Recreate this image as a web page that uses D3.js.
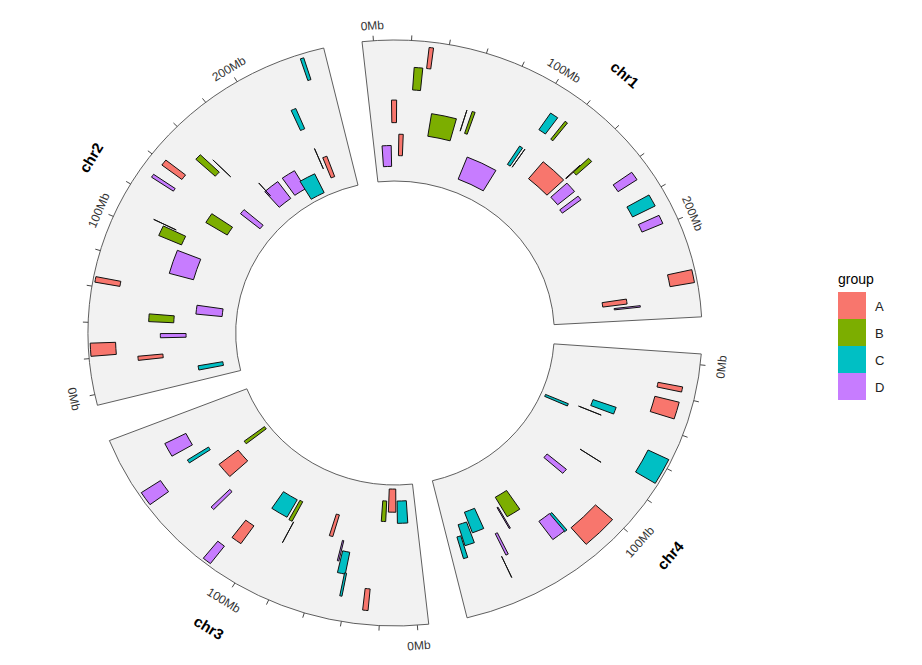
<!DOCTYPE html>
<html>
<head>
<meta charset="utf-8">
<script src="https://cdn.jsdelivr.net/npm/d3@7"></script>
<style>
  body { margin: 0; background: #fff; font-family: "Liberation Sans", Arial, sans-serif; }
</style>
</head>
<body>
<svg id="chart" width="922" height="665"></svg>
<script>
// chromosomes in clockwise drawing order
const chromNames = ["chr1", "chr4", "chr3", "chr2"];
const chromLengths = [249.25, 191.15, 198.02, 243.2]; // Mb

const groupNames = ["A", "B", "C", "D"];
const groupColors = ["#F8766D", "#7CAE00", "#00BFC4", "#C77CFF"];

// features: position in Mb, height inside the track (0-100)
const featChrom = [
  "chr1","chr1","chr1","chr1","chr1","chr1","chr1","chr1","chr1","chr1","chr1","chr1","chr1","chr1","chr1","chr1","chr1","chr1","chr1","chr1","chr1","chr1","chr1","chr1",
  "chr4","chr4","chr4","chr4","chr4","chr4","chr4","chr4","chr4","chr4","chr4","chr4","chr4","chr4","chr4","chr4","chr4","chr4","chr4",
  "chr3","chr3","chr3","chr3","chr3","chr3","chr3","chr3","chr3","chr3","chr3","chr3","chr3","chr3","chr3","chr3","chr3","chr3","chr3",
  "chr2","chr2","chr2","chr2","chr2","chr2","chr2","chr2","chr2","chr2","chr2","chr2","chr2","chr2","chr2","chr2","chr2","chr2","chr2","chr2","chr2","chr2","chr2","chr2"
];
const featStart = [
  29.6, 22.4, 9.0, 36.7, 59.4, 63, 0.7, 14.3, 71.4, 106.9, 116.6, 102.5, 106.8, 122.4, 141.8, 142.2, 145, 157.2, 164.6, 180.8, 193.8, 228.7, 239.6, 245.4,
  13.7, 22.7, 37, 46.1, 47.5, 55.1, 76.1, 94.3, 139.6, 153.1, 152.6, 123.5, 125.1, 100.3, 162.1, 166.5, 169.5, 179.5, 187,
  180.1, 170.4, 157.9, 145.7, 162.6, 136.5, 93.8, 89.1, 87.9, 109.8, 116.7, 57.4, 48.9, 43, 42.3, 26.6, 19.3, 1.4, 11.0,
  235.7, 219.5, 226.6, 223.4, 189.2, 200.2, 170.9, 172, 143.6, 122.5, 138.2, 129.2, 153.3, 160.2, 99.8, 107.9, 77.6, 62.4, 50.1, 41.9, 30.7, 21.2, 16.2, 2.7
];
const featEnd = [
  32.0, 27.4, 12.4, 54.3, 59.4, 65, 8.2, 17.7, 97.4, 111.9, 118.3, 105, 106.8, 141.8, 142.3, 145, 153, 160.5, 169.8, 188, 199, 236, 243.2, 246.4,
  16.7, 32.7, 42.1, 46.1, 49.7, 70.1, 76.1, 98.3, 150.4, 153.1, 153.4, 125.5, 133.9, 120.7, 163.7, 166.5, 178.3, 186.3, 189.9,
  189.5, 172.8, 160.8, 157.7, 170.7, 138.8, 106.8, 91.7, 87.9, 116.4, 121.5, 60, 49.9, 48, 43.6, 29.6, 22.9, 9.8, 17.4,
  237.6, 222.7, 230.2, 223.4, 201, 214.7, 184.5, 172, 148.1, 130.5, 141.8, 131.2, 157.2, 160.2, 106.7, 107.9, 95.1, 65.5, 57.6, 47.2, 33.7, 28.5, 18.9, 6.3
];
const featLow = [
  81, 65, 41.4, 33.5, 42, 41.4, 10.4, 18, 9.4, 66.2, 65.4, 33.9, 34, 34.1, 51.5, 58.3, 35, 33.8, 73.4, 72.8, 74, 81.2, 34, 41.5,
  73.6, 73.7, 34.3, 26.8, 3, 82.5, 42.1, 26.2, 27, 34, 34, 58, 57.5, 74.6, 49.9, 66.2, 27.7, 34.7, 42.8,
  50.6, 42.1, 2.7, 27, 82.3, 49.7, 27.7, 27.2, 42.7, 59, 82.4, 26.6, 43.5, 50.7, 65.7, 74.5, 11.5, 11.4, 2.9,
  80.7, 49.4, 10.4, 18.3, 11.1, 2.7, 10.9, 21, 9.7, 25.3, 72.9, 72.8, 57, 49.2, 49.6, 57.3, 33.7, 81.3, 9.8, 42.1, 33.6, 81.4, 50, 10.5
];
const featHigh = [
  96, 81, 57.4, 49.7, 57.6, 57.8, 25.2, 33.2, 26.2, 80.4, 81.4, 49.3, 49.5, 49.7, 65, 72.5, 49.8, 49.6, 88.8, 90, 89.4, 98, 50.6, 59.3,
  90.6, 90.7, 50.9, 43.4, 19.8, 98.1, 59.1, 43.2, 43, 51, 51, 74, 73.5, 90.2, 66.7, 82.8, 43.3, 50.3, 58.8,
  66.6, 59.1, 19.9, 43.4, 97.9, 67.5, 41.9, 42.8, 59.3, 74.4, 98, 42.6, 58.3, 66.5, 82.3, 89.9, 26.1, 27.2, 19.3,
  96.9, 65, 25.8, 33.9, 25.9, 17.5, 25.7, 33, 26.7, 42.3, 89.9, 90.6, 74.8, 66.2, 66.4, 74.3, 50.7, 98.5, 27.6, 59.1, 51, 98.6, 67, 27.5
];
const featGroup = [
  "A","B","A","B","B","B","D","A","D","C","B","C","C","A","A","B","D","D","D","C","D","A","A","D",
  "A","A","C","C","C","C","C","D","B","B","D","C","D","A","D","D","C","C","C",
  "D","C","B","A","D","D","C","B","B","A","D","A","D","C","C","A","B","C","A",
  "C","C","A","A","D","C","D","D","D","B","A","D","B","B","B","B","D","A","D","B","D","A","A","C"
];

const tickStep = 20;   // Mb
const labelStep = 100; // Mb

// ---- geometry ----
const cx = 395, cy = 333, xStretch = 1.048;
const innerR = 152, outerR = 293;
const pad = 6, gap = 20.4;

const layout = [];
let cum = 0;
chromNames.forEach((name, i) => {
  const len = chromLengths[i];
  layout.push({name: name, len: len, boxStart: cum, zero: cum + pad, boxEnd: cum + len + 2 * pad});
  cum += len + 2 * pad + gap;
});
const total = cum;
const chromInfo = new Map(layout.map(d => [d.name, d]));

const degPerMb = 360 / total;
const a0 = -4.03 - pad * degPerMb;
const angle = d3.scaleLinear().domain([0, total]).range([a0, a0 + 360]); // degrees
const radius = d3.scaleLinear().domain([0, 100]).range([innerR, outerR]);
const color = d3.scaleOrdinal().domain(groupNames).range(groupColors);

const rad = deg => deg * Math.PI / 180;
const posAngle = (chrom, mb) => angle(chromInfo.get(chrom).zero + mb);
const pt = (deg, r) => [cx + xStretch * r * Math.sin(rad(deg)), cy - r * Math.cos(rad(deg))];
const norm = deg => ((deg % 360) + 360) % 360;

const features = featChrom.map((c, i) => ({
  chrom: c, start: featStart[i], end: featEnd[i], low: featLow[i], high: featHigh[i], group: featGroup[i]
}));

const svg = d3.select('#chart');

const g = svg.append('g')
  .attr('transform', `translate(${cx},${cy}) scale(${xStretch},1)`);

// track backgrounds
const bgArc = d3.arc()
  .innerRadius(innerR)
  .outerRadius(outerR)
  .startAngle(d => rad(angle(d.boxStart)))
  .endAngle(d => rad(angle(d.boxEnd)));

g.selectAll('.track')
  .data(layout)
  .enter().append('path')
  .attr('class', 'track')
  .attr('d', bgArc)
  .attr('fill', '#F2F2F2')
  .attr('stroke', '#4d4d4d')
  .attr('stroke-width', 0.9)
  .attr('vector-effect', 'non-scaling-stroke');

// ticks
const ticks = [];
layout.forEach(d => {
  const last = Math.floor(d.len / labelStep) * labelStep;
  d3.range(0, last + 1, tickStep).forEach(mb => {
    ticks.push({chrom: d.name, mb: mb, label: mb % labelStep === 0});
  });
});

g.selectAll('.tick')
  .data(ticks)
  .enter().append('line')
  .attr('class', 'tick')
  .attr('x1', d => outerR * Math.sin(rad(posAngle(d.chrom, d.mb))))
  .attr('y1', d => -outerR * Math.cos(rad(posAngle(d.chrom, d.mb))))
  .attr('x2', d => (outerR + 5) * Math.sin(rad(posAngle(d.chrom, d.mb))))
  .attr('y2', d => -(outerR + 5) * Math.cos(rad(posAngle(d.chrom, d.mb))))
  .attr('stroke', '#333')
  .attr('stroke-width', 0.9)
  .attr('vector-effect', 'non-scaling-stroke');

// features
const featArc = d3.arc()
  .innerRadius(d => radius(d.low))
  .outerRadius(d => radius(d.high))
  .startAngle(d => rad(posAngle(d.chrom, d.start)))
  .endAngle(d => rad(posAngle(d.chrom, d.end)));

g.selectAll('.feature')
  .data(features)
  .enter().append('path')
  .attr('class', 'feature')
  .attr('d', featArc)
  .attr('fill', d => color(d.group))
  .attr('stroke', '#111')
  .attr('stroke-width', 1)
  .attr('stroke-linejoin', 'round')
  .attr('vector-effect', 'non-scaling-stroke');

// tick labels
const textRot = deg => {
  const a = norm(deg);
  const flip = a > 90 && a < 270;
  return {flip: flip, rot: flip ? a - 180 : (a > 180 ? a - 360 : a)};
};

svg.selectAll('.tickLabel')
  .data(ticks.filter(d => d.label))
  .enter().append('text')
  .attr('class', 'tickLabel')
  .each(function(d) {
    const a = posAngle(d.chrom, d.mb);
    const t = textRot(a);
    const p = pt(a, t.flip ? 313.5 : 308);
    d3.select(this)
      .attr('transform', `translate(${p[0]},${p[1]}) rotate(${t.rot})`);
  })
  .attr('text-anchor', 'middle')
  .attr('dominant-baseline', 'central')
  .attr('font-size', 12)
  .attr('fill', '#333')
  .text(d => d.mb + 'Mb');

// chromosome labels
svg.selectAll('.chromLabel')
  .data(layout)
  .enter().append('text')
  .attr('class', 'chromLabel')
  .each(function(d) {
    const a = angle(d.zero + d.len / 2);
    const t = textRot(a);
    const p = pt(a, t.flip ? 344 : 339);
    d3.select(this)
      .attr('transform', `translate(${p[0]},${p[1]}) rotate(${t.rot})`);
  })
  .attr('text-anchor', 'middle')
  .attr('dominant-baseline', 'central')
  .attr('font-size', 15)
  .attr('font-weight', 'bold')
  .attr('fill', '#000')
  .text(d => d.name);

// legend
const legend = svg.append('g').attr('transform', 'translate(838,292)');
legend.append('text')
  .attr('x', 0)
  .attr('y', -8)
  .attr('font-size', 14)
  .attr('fill', '#000')
  .text('group');

const keys = legend.selectAll('.key')
  .data(groupNames)
  .enter().append('g')
  .attr('class', 'key')
  .attr('transform', (d, i) => `translate(0,${i * 27})`);

keys.append('rect')
  .attr('width', 28)
  .attr('height', 27)
  .attr('fill', d => color(d));

keys.append('text')
  .attr('x', 37)
  .attr('y', 14)
  .attr('dominant-baseline', 'central')
  .attr('font-size', 13)
  .attr('fill', '#222')
  .text(d => d);
</script>
</body>
</html>
